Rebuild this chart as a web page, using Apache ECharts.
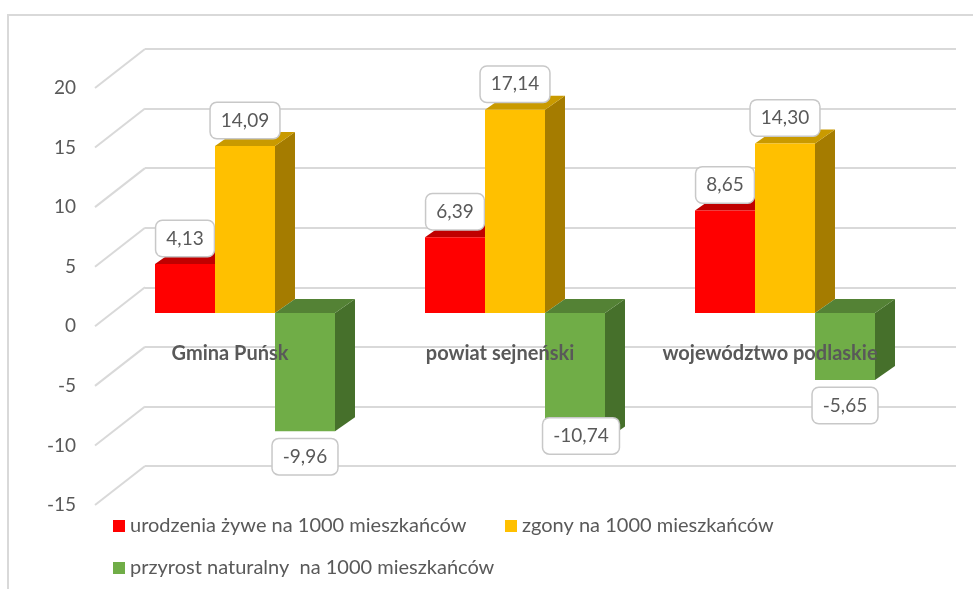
<!DOCTYPE html>
<html>
<head>
<meta charset="utf-8">
<script src="https://cdn.jsdelivr.net/npm/echarts@6/dist/echarts.min.js"></script>
<style>
  html, body { margin: 0; padding: 0; background: #ffffff; }
  #chart { width: 973px; height: 589px; }
</style>
</head>
<body>
<div id="chart"></div>
<script>
// Vital statistics per 1000 inhabitants
const categories = ['Gmina Puńsk', 'powiat sejneński', 'województwo podlaskie'];
const birthsPer1000 = [4.13, 6.39, 8.65];
const deathsPer1000 = [14.09, 17.14, 14.30];
const growthPer1000 = [-9.96, -10.74, -5.65];
const seriesNames = [
  'urodzenia żywe na 1000 mieszkańców',
  'zgony na 1000 mieszkańców',
  'przyrost naturalny  na 1000 mieszkańców'
];
const yMin = -15, yMax = 20, yStep = 5;
const yTicks = [-15, -10, -5, 0, 5, 10, 15, 20];

// Face colours of the pseudo-3D columns: front, top, side
const palette = [
  { front: '#ff0000', top: '#c00000', side: '#a00000' },
  { front: '#ffc000', top: '#c99a00', side: '#a57c00' },
  { front: '#70ad47', top: '#548235', side: '#46702b' }
];

const TEXT = '#595959';
const GRID_LINE = '#d9d9d9';
const FONT = 'Lato, "Open Sans", sans-serif';

// Oblique projection offsets (pixels)
const WALL_DX = 50, WALL_DY = -39;   // front edge of the floor -> back wall
const BAR_DX = 20, BAR_DY = -14;     // column front face -> column back face
const BAR_SHARE = 180 / 270;         // part of a category band covered by its three columns

// Label nudges for marks whose label Excel-style placement moved
const labelNudge = { '1-2': [6, -30] };

function fmt(v) { return v.toFixed(2).replace('.', ','); }

function columnRenderer(seriesIdx) {
  const c = palette[seriesIdx];
  return function (params, api) {
    const cat = api.value(0);
    const val = api.value(1);
    const base = api.coord([cat, 0]);
    const end = api.coord([cat, val]);
    const band = api.size([1, 0])[0];
    const bw = band * BAR_SHARE / 3;
    const x0 = base[0] - bw * 1.5 + bw * seriesIdx;
    const x1 = x0 + bw;
    const yTop = Math.min(base[1], end[1]);
    const yBot = Math.max(base[1], end[1]);

    const children = [
      {
        type: 'polygon',
        shape: { points: [[x1, yTop], [x1 + BAR_DX, yTop + BAR_DY], [x1 + BAR_DX, yBot + BAR_DY], [x1, yBot]] },
        style: { fill: c.side }
      },
      {
        type: 'polygon',
        shape: { points: [[x0, yTop], [x1, yTop], [x1 + BAR_DX, yTop + BAR_DY], [x0 + BAR_DX, yTop + BAR_DY]] },
        style: { fill: c.top }
      },
      {
        type: 'rect',
        shape: { x: x0, y: yTop, width: bw, height: yBot - yTop },
        style: { fill: c.front }
      }
    ];

    const nudge = labelNudge[params.dataIndex + '-' + seriesIdx] || [0, 0];
    const positive = val >= 0;
    children.push({
      type: 'text',
      x: (x0 + x1) / 2 + nudge[0],
      y: (positive ? yTop - 8 : yBot + 8) + nudge[1],
      z2: 100,
      style: {
        text: fmt(val),
        font: '19px ' + FONT,
        fill: TEXT,
        align: 'center',
        verticalAlign: positive ? 'bottom' : 'top',
        backgroundColor: '#ffffff',
        borderColor: '#c8c8c8',
        borderWidth: 1.5,
        borderRadius: 6,
        padding: [8, 10]
      }
    });
    return { type: 'group', children: children };
  };
}

const seriesValues = [birthsPer1000, deathsPer1000, growthPer1000];

const chart = echarts.init(document.getElementById('chart'), null, { renderer: 'canvas' });

chart.setOption({
  animation: false,
  backgroundColor: '#ffffff',
  textStyle: { fontFamily: FONT },
  graphic: [
    {
      type: 'rect',
      shape: { x: 8, y: 15, width: 1200, height: 1200 },
      style: { fill: 'none', stroke: GRID_LINE, lineWidth: 2 },
      silent: true,
      z: -10
    }
  ],
  grid: [
    // 0: back wall
    { left: 145, right: 17, top: 49, bottom: 123 },
    // 1: front edge (value labels)
    { left: 95, right: 68, top: 88, bottom: 84 },
    // 2: plane of the column front faces
    { left: 110, right: 53, top: 313 - 20 * 11.86, bottom: 589 - (313 + 15 * 11.86) },
    // 3: category labels band under the front zero line
    { left: 95, right: 68, top: 300, bottom: 589 - 326 }
  ],
  xAxis: [
    { gridIndex: 0, type: 'value', min: 0, max: 1, show: false },
    { gridIndex: 1, type: 'value', min: 0, max: 1, show: false },
    { gridIndex: 2, type: 'category', data: categories, show: false },
    {
      gridIndex: 3, type: 'category', data: categories, z: 20,
      axisLine: { show: false }, axisTick: { show: false },
      axisLabel: {
        interval: 0, hideOverlap: false,
        margin: 18, color: TEXT, fontSize: 20, fontWeight: 'bold', fontFamily: FONT
      }
    }
  ],
  yAxis: [
    {
      gridIndex: 0, type: 'value', min: yMin, max: yMax, interval: yStep,
      axisLine: { show: false }, axisTick: { show: false }, axisLabel: { show: false },
      splitLine: { show: true, lineStyle: { color: GRID_LINE, width: 2 } }
    },
    {
      gridIndex: 1, type: 'value', min: yMin, max: yMax, interval: yStep,
      axisLine: { show: false }, axisTick: { show: false }, splitLine: { show: false },
      axisLabel: { margin: 19, color: TEXT, fontSize: 19, fontFamily: FONT }
    },
    { gridIndex: 2, type: 'value', min: yMin, max: yMax, interval: yStep, show: false },
    { gridIndex: 3, type: 'value', show: false }
  ],
  legend: [0, 1, 2].map(function (i) {
    const pos = [[113, 516], [505, 516], [113, 558]][i];
    return {
      data: [seriesNames[i]],
      left: pos[0], top: pos[1],
      padding: 0,
      icon: 'rect', itemWidth: 12, itemHeight: 12, itemGap: 0,
      textStyle: { color: TEXT, fontSize: 20, fontFamily: FONT, padding: [0, 0, 0, 0] },
      selectedMode: false
    };
  }),
  series: [
    {
      // receding part of each gridline, from the front edge to the back wall
      type: 'custom',
      xAxisIndex: 0, yAxisIndex: 0,
      silent: true,
      z: 1,
      data: yTicks.map(function (v) { return [0, v]; }),
      renderItem: function (params, api) {
        const p = api.coord([0, api.value(1)]);
        return {
          type: 'line',
          shape: { x1: p[0] - WALL_DX, y1: p[1] - WALL_DY, x2: p[0], y2: p[1] },
          style: { stroke: GRID_LINE, lineWidth: 2 }
        };
      }
    }
  ].concat(seriesValues.map(function (vals, i) {
    return {
      name: seriesNames[i],
      type: 'custom',
      xAxisIndex: 2, yAxisIndex: 2,
      z: 3 + i,
      itemStyle: { color: palette[i].front },
      data: vals.map(function (v, k) { return [k, v]; }),
      renderItem: columnRenderer(i)
    };
  }))
});
</script>
</body>
</html>
